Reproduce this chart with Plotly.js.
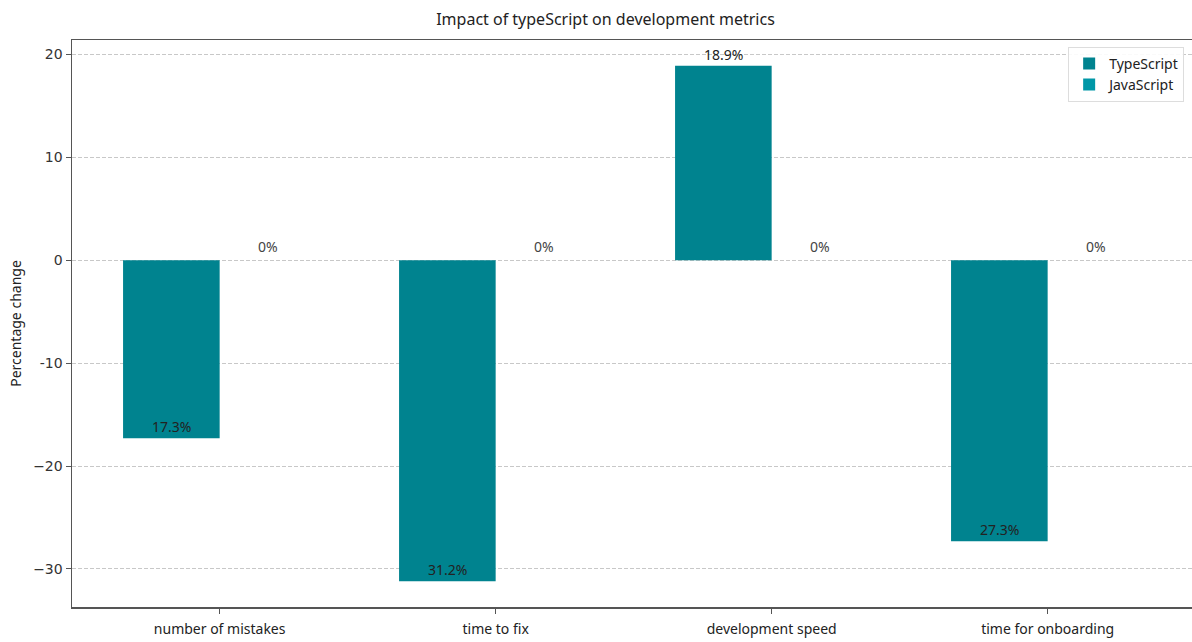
<!DOCTYPE html>
<html>
<head>
<meta charset="utf-8">
<script src="https://cdn.plot.ly/plotly-3.0.1.min.js"></script>
<style>html,body{margin:0;padding:0;background:#fff;}#chart{width:1192px;height:642px;}</style>
</head>
<body>
<div id="chart"></div>
<script>
const categories = ["number of mistakes", "time to fix", "development speed", "time for onboarding"];
const typeScriptValues = [-17.3, -31.2, 18.9, -27.3];
const javaScriptValues = [0, 0, 0, 0];
const yTickValues = [-30, -20, -10, 0, 10, 20];
const yTickLabels = ["\u221230", "\u221220", "-10", "0", "10", "20"];

const barWidth = 0.35;
const xs = categories.map((_, i) => i);

const traces = [
  {
    type: "bar", name: "TypeScript", x: xs, y: typeScriptValues,
    width: barWidth, offset: -barWidth,
    marker: {color: "#00838F"}, hoverinfo: "skip"
  },
  {
    type: "bar", name: "JavaScript", x: xs, y: javaScriptValues,
    width: barWidth, offset: 0,
    marker: {color: "#0097A7"}, hoverinfo: "skip"
  }
];

const annotations = [];
typeScriptValues.forEach((v, i) => {
  annotations.push({
    x: i - barWidth / 2, y: v, xref: "x", yref: "y",
    text: Math.abs(v).toFixed(1) + "%", showarrow: false,
    yanchor: "bottom", xanchor: "center", yshift: 0,
    font: {family: "Noto Sans, DejaVu Sans, sans-serif", size: 14, color: "#222"}
  });
});
javaScriptValues.forEach((v, i) => {
  annotations.push({
    x: i + barWidth / 2, y: v, xref: "x", yref: "y",
    text: Math.abs(v) + "%", showarrow: false,
    yanchor: "bottom", xanchor: "center", yshift: 2,
    font: {family: "Noto Sans, DejaVu Sans, sans-serif", size: 14, color: "#444"}
  });
});

const layout = {
  width: 1192, height: 642,
  margin: {l: 72, r: 0, t: 40, b: 35},
  paper_bgcolor: "#fff", plot_bgcolor: "#fff",
  barmode: "overlay",
  title: {
    text: "Impact of typeScript on development metrics",
    x: 0.508, xanchor: "center", y: 0.97, yanchor: "middle",
    font: {family: "Noto Sans, sans-serif", size: 16, color: "#222"}
  },
  xaxis: {
    range: [-0.535, 3.523],
    tickvals: xs, ticktext: categories,
    ticks: "outside", ticklen: 5, tickcolor: "#555",
    ticklabelstandoff: 4,
    showline: true, linecolor: "#555", linewidth: 1.5, mirror: true,
    showgrid: false, zeroline: false,
    tickfont: {family: "Noto Sans, sans-serif", size: 14, color: "#222"}
  },
  yaxis: {
    range: [-33.7, 21.4],
    tickvals: yTickValues, ticktext: yTickLabels,
    ticks: "outside", ticklen: 5, tickcolor: "#555",
    showline: true, linecolor: "#555", linewidth: 1.5,
    showgrid: true, gridcolor: "#c8c8c8", griddash: "4px,2px", gridwidth: 1,
    zeroline: false,
    tickfont: {family: "DejaVu Sans, sans-serif", size: 14, color: "#333"},
    title: {text: "Percentage change", standoff: 8,
      font: {family: "Noto Sans, sans-serif", size: 14, color: "#222"}}
  },
  legend: {
    x: 0.993, y: 0.988, xanchor: "right", yanchor: "top",
    bgcolor: "rgba(255,255,255,0.9)", bordercolor: "#ddd", borderwidth: 1,
    font: {family: "Noto Sans, sans-serif", size: 14, color: "#222"},
    tracegroupgap: 2
  },
  annotations: annotations,
  showlegend: true
};

Plotly.newPlot("chart", traces, layout, {displayModeBar: false, staticPlot: true});
</script>
</body>
</html>
